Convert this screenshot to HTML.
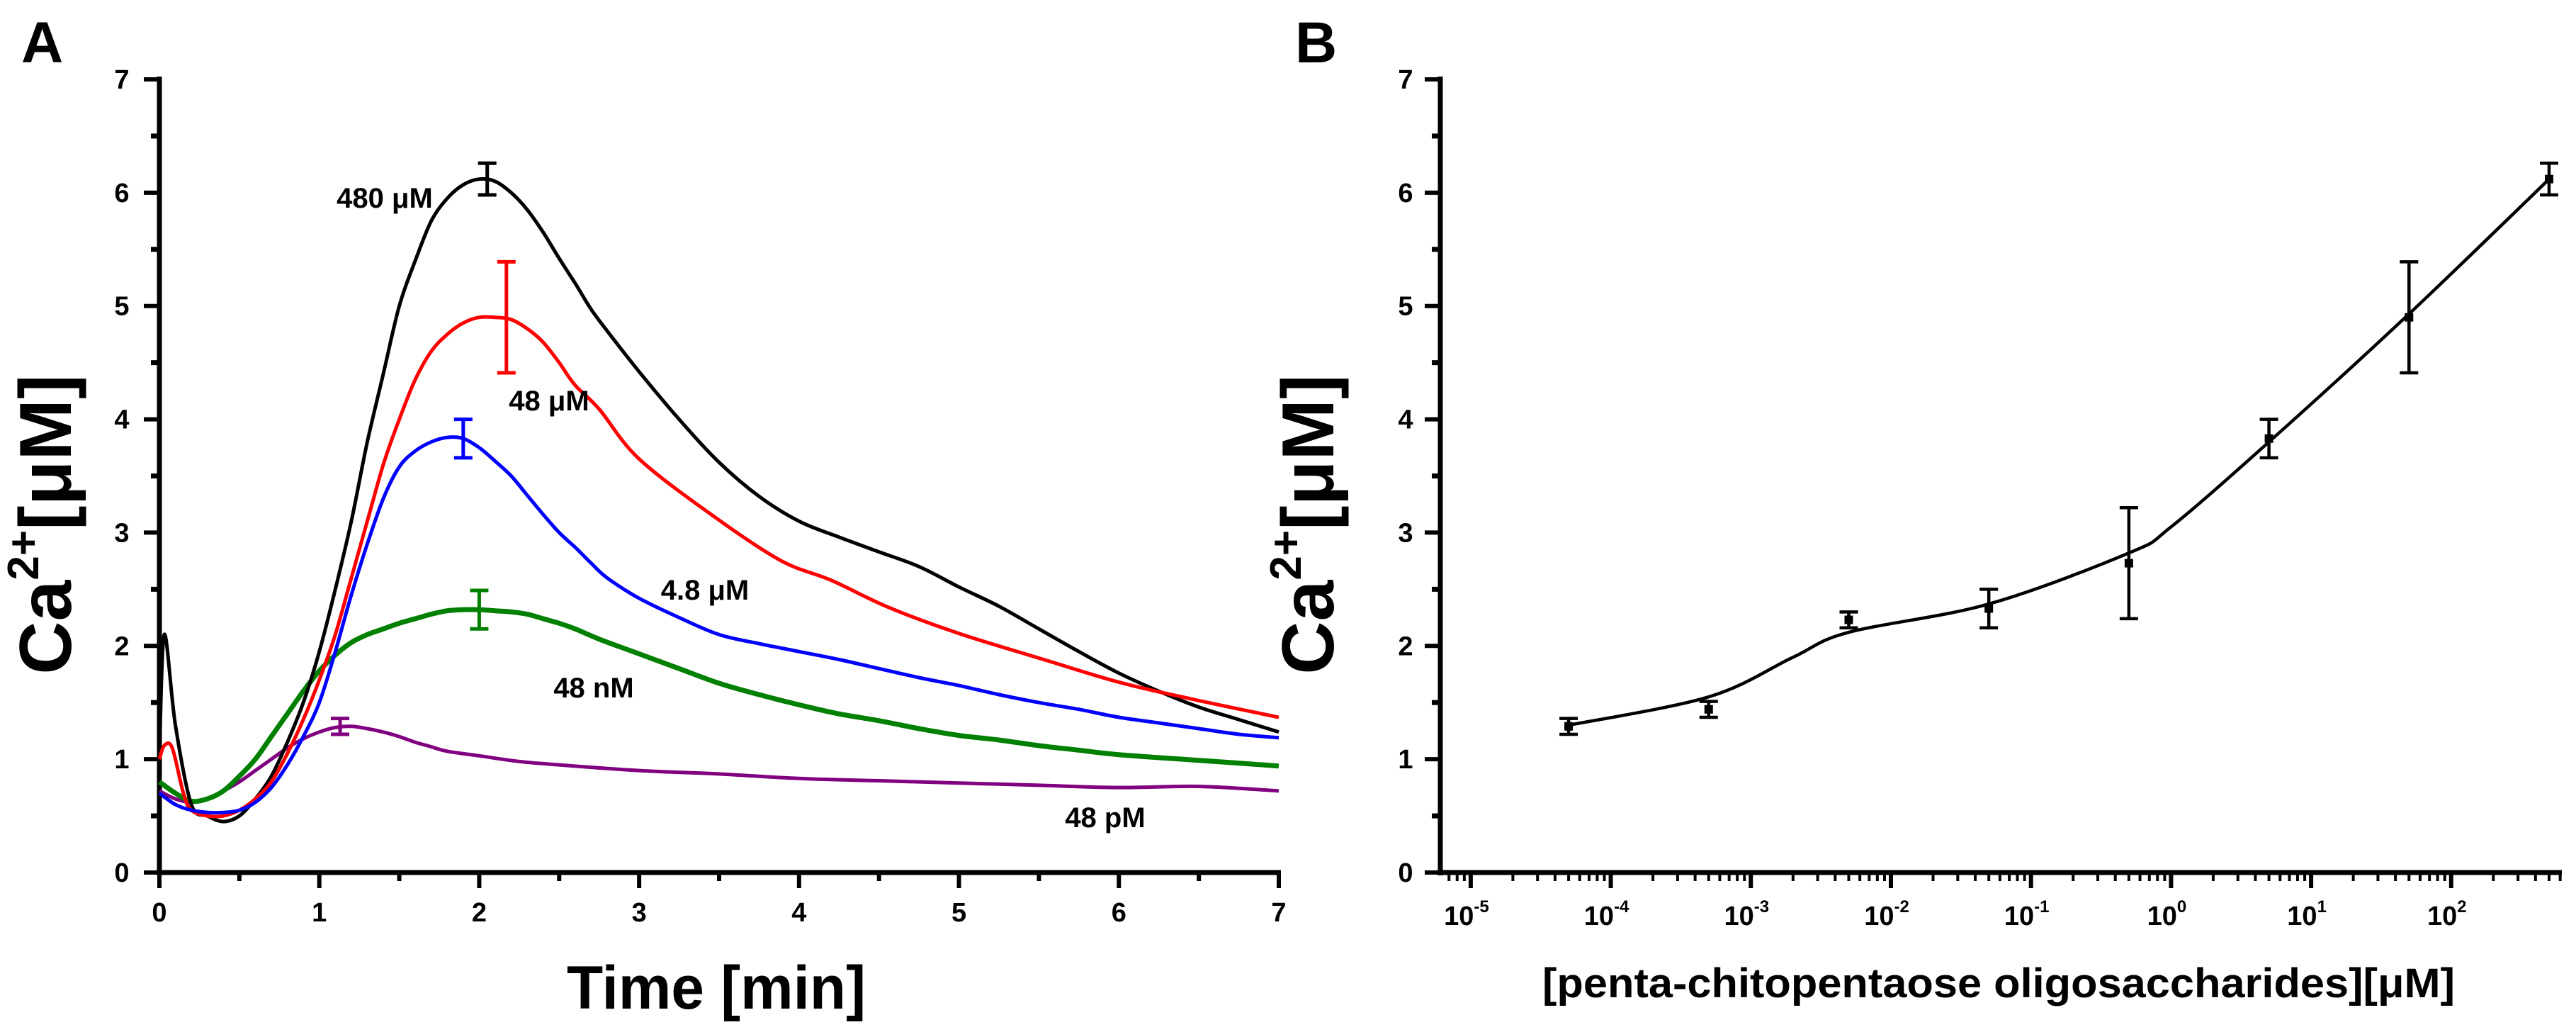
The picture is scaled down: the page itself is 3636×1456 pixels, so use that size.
<!DOCTYPE html>
<html><head><meta charset="utf-8">
<style>
html,body{margin:0;padding:0;background:#fff;}
svg{display:block;font-family:"Liberation Sans",Arial,sans-serif;}
</style></head>
<body>
<svg id="fig" width="3636" height="1456" viewBox="0 0 3636 1456" xmlns="http://www.w3.org/2000/svg">
<g id="panelA"></g>
<g id="panelB"></g>
</svg>
<script>
// ---------- Panel A data ----------
const blackT=[0,0.03,0.1,0.2,0.3,0.4,0.5,0.6,0.7,0.8,0.9,1.0,1.1,1.2,1.3,1.4,1.5,1.6,1.7,1.8,1.9,2.0,2.1,2.2,2.3,2.4,2.5,2.6,2.7,2.8,3.0,3.25,3.5,3.75,4.0,4.25,4.5,4.75,5.0,5.25,5.5,5.75,6.0,6.25,6.5,6.75,7.0];
const blackV=[1.0,2.1,1.3,0.6,0.5,0.45,0.5,0.65,0.85,1.15,1.5,1.95,2.5,3.1,3.8,4.4,5.0,5.4,5.75,5.95,6.07,6.12,6.1,6.0,5.85,5.65,5.42,5.2,4.97,4.78,4.42,4.0,3.62,3.32,3.1,2.96,2.83,2.7,2.52,2.35,2.15,1.95,1.76,1.6,1.46,1.35,1.24];
const redT=[0,0.03,0.08,0.15,0.2,0.3,0.4,0.5,0.6,0.7,0.8,0.9,1.0,1.1,1.2,1.3,1.4,1.5,1.6,1.7,1.8,1.9,2.0,2.1,2.2,2.3,2.4,2.5,2.6,2.75,3.0,3.48,3.89,4.2,4.56,5.0,5.53,6.0,6.46,7.0];
const redV=[1.0,1.12,1.1,0.7,0.55,0.5,0.5,0.55,0.65,0.8,1.05,1.35,1.7,2.1,2.6,3.1,3.6,4.0,4.35,4.6,4.75,4.85,4.9,4.9,4.88,4.8,4.68,4.5,4.3,4.09,3.65,3.13,2.75,2.58,2.34,2.11,1.88,1.68,1.53,1.37];
const blueT=[0,0.1,0.2,0.3,0.4,0.5,0.6,0.7,0.8,0.9,1.0,1.1,1.2,1.3,1.4,1.5,1.6,1.7,1.8,1.9,2.0,2.1,2.2,2.3,2.4,2.5,2.6,2.7,2.8,3.0,3.25,3.5,3.75,4.0,4.25,4.5,4.75,5.0,5.25,5.5,5.75,6.0,6.25,6.5,6.75,7.0];
const blueV=[0.7,0.6,0.55,0.53,0.53,0.55,0.62,0.75,0.95,1.2,1.5,1.95,2.45,2.9,3.3,3.58,3.72,3.8,3.84,3.83,3.75,3.63,3.5,3.33,3.16,3.0,2.87,2.73,2.6,2.42,2.25,2.1,2.02,1.95,1.88,1.8,1.72,1.65,1.57,1.5,1.44,1.37,1.32,1.27,1.22,1.19];
const greenT=[0,0.1,0.2,0.3,0.4,0.5,0.6,0.7,0.8,0.9,1.0,1.1,1.2,1.3,1.4,1.5,1.6,1.7,1.8,1.9,2.0,2.1,2.2,2.3,2.4,2.5,2.6,2.75,3.0,3.25,3.5,3.75,4.0,4.25,4.5,4.75,5.0,5.25,5.5,5.75,6.0,6.5,7.0];
const greenV=[0.8,0.7,0.63,0.65,0.72,0.85,1.0,1.2,1.4,1.6,1.78,1.92,2.03,2.1,2.15,2.2,2.24,2.28,2.31,2.32,2.32,2.31,2.3,2.28,2.24,2.2,2.15,2.06,1.93,1.8,1.67,1.57,1.48,1.4,1.34,1.27,1.21,1.17,1.12,1.08,1.04,0.99,0.94];
const purpleT=[0,0.1,0.2,0.3,0.4,0.5,0.6,0.7,0.8,0.9,1.0,1.1,1.2,1.3,1.4,1.5,1.6,1.7,1.8,2.0,2.25,2.5,3.0,3.5,4.0,4.5,5.0,5.5,6.0,6.5,7.0];
const purpleV=[0.72,0.65,0.62,0.65,0.72,0.8,0.9,1.0,1.1,1.18,1.24,1.28,1.29,1.27,1.24,1.2,1.15,1.11,1.07,1.03,0.98,0.95,0.9,0.87,0.83,0.81,0.79,0.77,0.75,0.76,0.72];
const errT=[2.05,2.17,1.9,2.0,1.13];
const errV=[6.12,4.9,3.83,2.32,1.29];
const errE=[0.14,0.49,0.17,0.17,0.07];
const seriesNames=["480 μM","48 μM","4.8 μM","48 nM","48 pM"];
const xTicksA=[0,1,2,3,4,5,6,7];
const yTicks=[0,1,2,3,4,5,6,7];
// ---------- Panel B data ----------
const concB=[5e-5,5e-4,5e-3,5e-2,0.5,5,50,500];
const meanB=[1.29,1.44,2.23,2.33,2.73,3.83,4.9,6.12];
const errB=[0.07,0.07,0.07,0.17,0.49,0.17,0.49,0.14];
const fitX=[5e-5,5e-4,2e-3,5e-3,5e-2,0.5,1,5,50,500];
const fitY=[1.3,1.55,1.9,2.12,2.37,2.82,3.05,3.8,4.93,6.12];
const decadesB=[-5,-4,-3,-2,-1,0,1,2];

const NS="http://www.w3.org/2000/svg";
function mk(parent,tag,attrs){const e=document.createElementNS(NS,tag);for(const k in attrs)e.setAttribute(k,attrs[k]);parent.appendChild(e);return e;}
function smooth(pts){let d="M"+pts[0][0].toFixed(1)+","+pts[0][1].toFixed(1);
 for(let i=0;i<pts.length-1;i++){const p0=pts[Math.max(0,i-1)],p1=pts[i],p2=pts[i+1],p3=pts[Math.min(pts.length-1,i+2)];
  const c1x=p1[0]+(p2[0]-p0[0])/6,c1y=p1[1]+(p2[1]-p0[1])/6,c2x=p2[0]-(p3[0]-p1[0])/6,c2y=p2[1]-(p3[1]-p1[1])/6;
  d+=" C"+c1x.toFixed(1)+","+c1y.toFixed(1)+" "+c2x.toFixed(1)+","+c2y.toFixed(1)+" "+p2[0].toFixed(1)+","+p2[1].toFixed(1);}
 return d;}

const plotTop=112,plotBot=1231;
const yS=v=>plotBot-(v/7)*(plotBot-plotTop);

function yAxis(g,left,labelX,titleX){
 mk(g,"line",{x1:left,y1:plotTop-4,x2:left,y2:plotBot+4,stroke:"#000","stroke-width":7});
 for(let v=0;v<=7;v+=0.5){const major=Number.isInteger(v);
  mk(g,"line",{x1:left,y1:yS(v),x2:left-(major?22:12),y2:yS(v),stroke:"#000","stroke-width":major?6:7});}
 yTicks.forEach(v=>{const t=mk(g,"text",{x:labelX,y:yS(v)+13,"text-anchor":"middle","font-size":38,"font-weight":"bold"});t.textContent=v;
  
  });
 const ti=mk(g,"text",{x:0,y:0,transform:`translate(${titleX},740) rotate(-90)`,"text-anchor":"middle","font-size":104,"font-weight":"bold"});
 ti.innerHTML='Ca<tspan font-size="62" dy="-46">2+</tspan><tspan dy="46">[μM]</tspan>';
 
 
}

// ---------- Panel A ----------
(function(){
 const g=document.getElementById("panelA");
 const L=225,R=1805;const xS=t=>L+(t/7)*(R-L);
 const lab=mk(g,"text",{x:30,y:88,"font-size":82,"font-weight":"bold"});lab.textContent="A";
 
 
 yAxis(g,L,172,100);
 mk(g,"line",{x1:L-4,y1:plotBot,x2:R+3,y2:plotBot,stroke:"#000","stroke-width":7});
 for(let t=0;t<=7;t+=0.5){const major=Number.isInteger(t);
  mk(g,"line",{x1:xS(t),y1:plotBot,x2:xS(t),y2:plotBot+(major?22:12),stroke:"#000","stroke-width":6});}
 xTicksA.forEach(t=>{const e=mk(g,"text",{x:xS(t),y:1300,"text-anchor":"middle","font-size":38,"font-weight":"bold"});e.textContent=t;
  
  });
 const xt=mk(g,"text",{x:1011,y:1423,"text-anchor":"middle","font-size":86,"font-weight":"bold",textLength:422,lengthAdjust:"spacingAndGlyphs"});xt.textContent="Time [min]";
 
 
 const ser=[[blackT,blackV,"#000000"],[redT,redV,"#ff0000"],[blueT,blueV,"#0000ff"],[greenT,greenV,"#008000"],[purpleT,purpleV,"#800080"]];
 const drawOrder=[4,3,0,1,2];
 drawOrder.forEach(i=>{const s=ser[i];const pts=s[0].map((t,k)=>[xS(t),yS(s[1][k])]);
  const p=mk(g,"path",{d:smooth(pts),fill:"none",stroke:s[2],"stroke-width":i==3?7:5,"stroke-linejoin":"round"});
  
  });
 errT.forEach((t,i)=>{const x=xS(t),c=ser[i][2];const eg=mk(g,"g",{stroke:c,"stroke-width":5});
  
  
  mk(eg,"line",{x1:x,y1:yS(errV[i]-errE[i]),x2:x,y2:yS(errV[i]+errE[i])});
  mk(eg,"line",{x1:x-13,y1:yS(errV[i]-errE[i]),x2:x+13,y2:yS(errV[i]-errE[i])});
  mk(eg,"line",{x1:x-13,y1:yS(errV[i]+errE[i]),x2:x+13,y2:yS(errV[i]+errE[i])});});
 const labPos=[[543,293],[775,579],[995,846],[838,984],[1560,1167]];
 seriesNames.forEach((n,i)=>{const e=mk(g,"text",{x:labPos[i][0],y:labPos[i][1],"text-anchor":"middle","font-size":40,"font-weight":"bold"});e.textContent=n;
  
  });
})();

// ---------- Panel B ----------
(function(){
 const g=document.getElementById("panelB");
 const L=2033,R=3616,lmin=-5.217,lmax=2.79;
 const xS=c=>L+((Math.log10(c)-lmin)/(lmax-lmin))*(R-L);
 const lab=mk(g,"text",{x:1828,y:88,"font-size":82,"font-weight":"bold"});lab.textContent="B";
 
 
 yAxis(g,L,1984,1882);
 mk(g,"line",{x1:L-4,y1:plotBot,x2:R,y2:plotBot,stroke:"#000","stroke-width":7});
 for(let d=-6;d<=2;d++){for(let m=1;m<=9;m++){const c=m*Math.pow(10,d);const lc=Math.log10(c);if(lc<lmin||lc>lmax)continue;
  mk(g,"line",{x1:xS(c),y1:plotBot,x2:xS(c),y2:plotBot+(m==1?22:12),stroke:"#000","stroke-width":m==1?6:4});}}
 decadesB.forEach(d=>{const e=mk(g,"text",{x:xS(Math.pow(10,d))-6,y:1305,"text-anchor":"middle","font-size":38,"font-weight":"bold"});
  e.innerHTML='10<tspan font-size="24" dy="-18">'+d+'</tspan>';
  
  });
 const xt=mk(g,"text",{x:2821,y:1407,"text-anchor":"middle","font-size":58,"font-weight":"bold",textLength:1288,lengthAdjust:"spacingAndGlyphs"});
 xt.textContent="[penta-chitopentaose oligosaccharides][μM]";
 
 
 const fp=fitX.map((c,i)=>[xS(c),yS(fitY[i])]);
 const f=mk(g,"path",{d:smooth(fp),fill:"none",stroke:"#000","stroke-width":4.5});
 
 
 concB.forEach((c,i)=>{const x=xS(c);const eg=mk(g,"g",{stroke:"#000","stroke-width":4.5});
  
  
  mk(eg,"line",{x1:x,y1:yS(meanB[i]-errB[i]),x2:x,y2:yS(meanB[i]+errB[i])});
  mk(eg,"line",{x1:x-13,y1:yS(meanB[i]-errB[i]),x2:x+13,y2:yS(meanB[i]-errB[i])});
  mk(eg,"line",{x1:x-13,y1:yS(meanB[i]+errB[i]),x2:x+13,y2:yS(meanB[i]+errB[i])});
  mk(eg,"rect",{x:x-6,y:yS(meanB[i])-6,width:12,height:12,fill:"#000",stroke:"none"});});
})();
</script>
</body></html>
